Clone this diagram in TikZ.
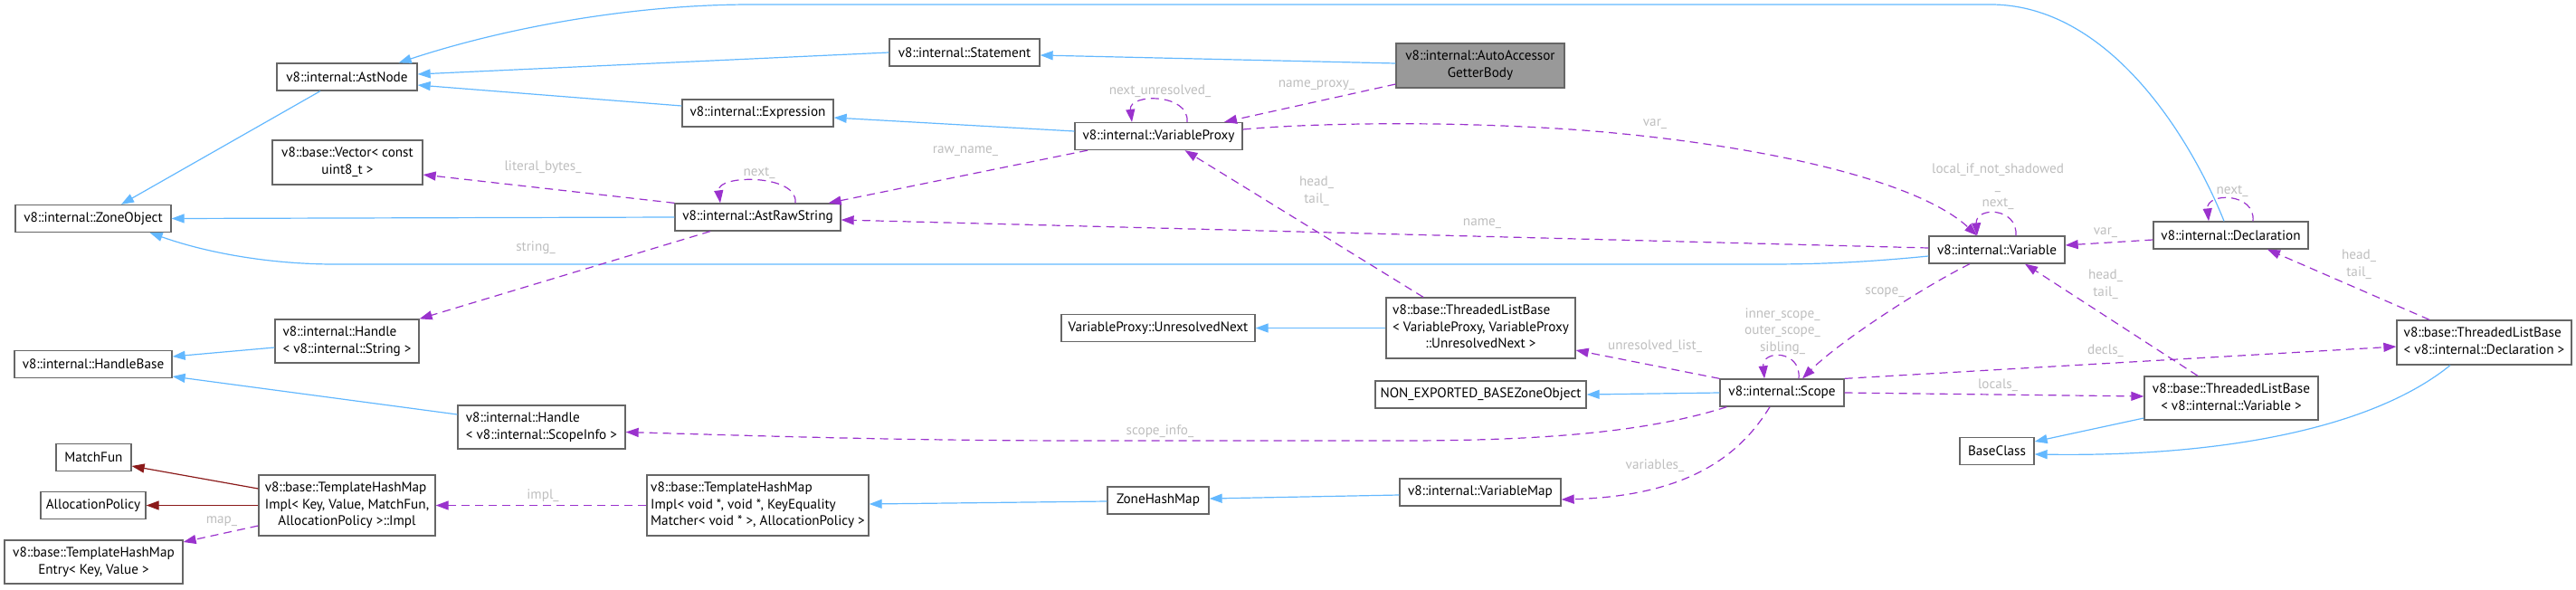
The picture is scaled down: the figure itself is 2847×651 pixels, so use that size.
\documentclass[tikz,border=0pt]{standalone}
\usepackage{fontspec}
\setmainfont{PT Sans}
\usetikzlibrary{arrows.meta, calc}

\definecolor{inhblue}{HTML}{63B8FF}
\definecolor{tplred}{HTML}{8B1A1A}
\definecolor{usepurple}{HTML}{9A32CD}
\definecolor{lblgray}{HTML}{BEBEBE}
\definecolor{boxgray}{HTML}{666666}
\definecolor{fillgray}{HTML}{999999}

\newcommand{\twoline}[2]{\begin{tabular}{@{}l@{}}#1\\\multicolumn{1}{@{}c@{}}{#2}\end{tabular}}
\newcommand{\threeline}[3]{\begin{tabular}{@{}l@{}}#1\\#2\\\multicolumn{1}{@{}c@{}}{#3}\end{tabular}}

\begin{document}
\begin{tikzpicture}[
  x=1pt, y=-1pt,
  every node/.style={font=\fontsize{15.2}{18.7}\selectfont},
  cls/.style={rectangle, draw=boxgray, line width=1.3pt, fill=white, inner sep=0pt},
  sz/.style 2 args={minimum width=#1pt, minimum height=#2pt},
  lbl/.style={text=lblgray, inner sep=0pt, align=center},
  inh/.style={draw=inhblue, line width=1.2pt, -{Triangle[length=14pt, width=10pt]}},
  tpl/.style={draw=tplred, line width=1.2pt, -{Triangle[length=14pt, width=10pt]}},
  usage/.style={draw=usepurple, line width=1.2pt, dash pattern=on 9pt off 6pt,
                -{Triangle[length=14pt, width=10pt]}}
]
  \useasboundingbox (0,0) rectangle (2847,651);

  % classes
  \node[cls, sz={155}{30}] (astnode)     at (383.5,85)    {v8::internal::AstNode};
  \node[cls, sz={166}{49}] (vector)      at (384,179.5)   {\twoline{v8::base::Vector< const}{uint8\_t >}};
  \node[cls, sz={172}{30}] (zoneobj)     at (103,241.5)   {v8::internal::ZoneObject};
  \node[cls, sz={174}{30}] (handlebase)  at (103,402.5)   {v8::internal::HandleBase};
  \node[cls, sz={159}{48}] (handlestr)   at (383.5,377)   {\twoline{v8::internal::Handle}{< v8::internal::String >}};
  \node[cls, sz={185}{48}] (handlesi)    at (598.5,472)   {\twoline{v8::internal::Handle}{< v8::internal::ScopeInfo >}};
  \node[cls, sz={83}{30}]  (matchfun)    at (103.5,505.5) {MatchFun};
  \node[cls, sz={116}{30}] (allocpol)    at (103,558.5)   {AllocationPolicy};
  \node[cls, sz={195}{67}] (hashimplkey) at (383.5,558.5) {\threeline{v8::base::TemplateHashMap}{Impl< Key, Value, MatchFun,}{AllocationPolicy >::Impl}};
  \node[cls, sz={197}{48}] (hashentry)   at (103.5,621)   {\twoline{v8::base::TemplateHashMap}{Entry< Key, Value >}};
  \node[cls, sz={166}{30}] (statement)   at (1066,58)     {v8::internal::Statement};
  \node[cls, sz={167}{30}] (expression)  at (837.5,125)   {v8::internal::Expression};
  \node[cls, sz={183}{30}] (astraw)      at (837.5,240)   {v8::internal::AstRawString};
  \node[cls, sz={245}{67}] (hashimplvoid) at (837.5,558.5) {\threeline{v8::base::TemplateHashMap}{Impl< void *, void *, KeyEquality}{Matcher< void * >, AllocationPolicy >}};
  \node[cls, fill=fillgray, sz={186}{49}] (getterbody) at (1636,72.5) {\twoline{v8::internal::AutoAccessor}{GetterBody}};
  \node[cls, sz={185}{30}] (varproxy)    at (1280.5,150.5) {v8::internal::VariableProxy};
  \node[cls, sz={214}{30}] (unresnext)   at (1280,362.5)  {VariableProxy::UnresolvedNext};
  \node[cls, sz={209}{67}] (listproxy)   at (1636.5,362.5) {\threeline{v8::base::ThreadedListBase}{< VariableProxy, VariableProxy}{::UnresolvedNext >}};
  \node[cls, sz={233}{30}] (nonexported) at (1636.5,436)  {NON\_EXPORTED\_BASEZoneObject};
  \node[cls, sz={112}{30}] (zonehashmap) at (1280,553)    {ZoneHashMap};
  \node[cls, sz={178}{30}] (varmap)      at (1636,544)    {v8::internal::VariableMap};
  \node[cls, sz={150}{30}] (variable)    at (2207,276)    {v8::internal::Variable};
  \node[cls, sz={137}{30}] (scope)       at (1969.5,434)  {v8::internal::Scope};
  \node[cls, sz={82}{30}]  (baseclass)   at (2207,498.5)  {BaseClass};
  \node[cls, sz={171}{30}] (declaration) at (2465.5,260)  {v8::internal::Declaration};
  \node[cls, sz={193}{49}] (listdecl)    at (2745.5,378.5) {\twoline{v8::base::ThreadedListBase}{< v8::internal::Declaration >}};
  \node[cls, sz={192}{48}] (listvar)     at (2466,440)    {\twoline{v8::base::ThreadedListBase}{< v8::internal::Variable >}};

  % inheritance
  \foreach \a/\b in {astraw/zoneobj, listproxy/unresnext, scope/nonexported}{
    \draw[inh] (\a.west) -- (\b.east);
  }
  \draw[inh] (statement.west) -- ($(astnode.east)+(0,-3)$);
  \draw[inh] ($(expression.west)+(0,-8)$) -- ($(astnode.east)+(0,9)$);
  \draw[inh] ($(declaration.north)+(-7.5,0)$) .. controls (2420,150) and (2330,5) .. (2200,5)
    -- (830,5) .. controls (700,5) and (560,30) .. ($(astnode.north east)+(-21,0)$);
  \draw[inh] ($(astnode.south)+(-29.5,0)$) -- ($(zoneobj.north)+(31,0)$);
  \draw[inh] ($(variable.west)+(0,7)$) .. controls (2050,291) and (2000,292) .. (1950,292)
    -- (370,292) .. controls (300,292) and (230,280) .. ($(zoneobj.south east)+(-24,0)$);
  \draw[inh] ($(handlestr.west)+(0,7)$) -- ($(handlebase.east)+(0,-8.5)$);
  \draw[inh] ($(handlesi.west)+(0,-14)$) -- ($(handlebase.east)+(0,13.5)$);
  \draw[inh] ($(getterbody.west)+(0,-2.5)$) -- ($(statement.east)+(0,3)$);
  \draw[inh] ($(varproxy.west)+(0,-5.5)$) -- ($(expression.east)+(0,5)$);
  \draw[inh] ($(varmap.west)+(0,3)$) -- ($(zonehashmap.east)+(0,-2)$);
  \draw[inh] ($(zonehashmap.west)+(0,1)$) -- ($(hashimplvoid.east)+(0,-1.5)$);
  \draw[inh] ($(listvar.west)+(0,22)$) -- ($(baseclass.east)+(0,-10.5)$);
  \draw[inh] ($(listdecl.south)+(-37.5,0)$) .. controls (2620,475) and (2450,505) .. ($(baseclass.east)+(0,3.5)$);

  % template arguments
  \draw[tpl] ($(hashimplkey.west)+(0,-18.5)$) -- ($(matchfun.east)+(0,9.5)$);
  \draw[tpl] (hashimplkey.west) -- (allocpol.east);

  % usage
  \draw[usage] ($(getterbody.west)+(0,20.5)$) -- ($(varproxy.north)+(72.5,0)$);
  \draw[usage] ($(varproxy.north)+(31.5,0)$) .. controls +(3,-32) and +(-4,-32) .. ($(varproxy.north)+(-29.5,0)$);
  \draw[usage] ($(varproxy.south)+(-78.5,0)$) -- ($(astraw.north east)+(-14,0)$);
  \draw[usage] ($(varproxy.east)+(0,-7.5)$) .. controls (1450,136) and (1600,133) .. (1750,144)
    .. controls (1950,160) and (2120,200) .. ($(variable.north)+(-22,0)$);
  \draw[usage] ($(astraw.north)+(41.5,0)$) .. controls +(4,-32) and +(-4,-32) .. ($(astraw.north)+(-41.5,0)$);
  \draw[usage] (astraw.north west) -- ($(vector.east)+(0,13.5)$);
  \draw[usage] ($(astraw.south)+(-52.5,0)$) -- (handlestr.north east);
  \draw[usage] ($(variable.west)+(0,-2)$) -- ($(astraw.east)+(0,3)$);
  \draw[usage] ($(variable.north)+(21,0)$) .. controls +(2,-32) and +(-2,-32) .. ($(variable.north)+(-22,0)$);
  \draw[usage] ($(declaration.west)+(0,5)$) -- ($(variable.east)+(0,-5)$);
  \draw[usage] ($(declaration.north)+(24.5,0)$) .. controls +(3,-32) and +(-3,-32) .. ($(declaration.north)+(-24.5,0)$);
  \draw[usage] ($(listdecl.north)+(-60.5,0)$) -- ($(declaration.south)+(40.5,0)$);
  \draw[usage] ($(listvar.north)+(-37,0)$) -- ($(variable.south)+(31,0)$);
  \draw[usage] ($(listproxy.north)+(-63.5,0)$) -- ($(varproxy.south)+(29,0)$);
  \draw[usage] ($(variable.south)+(-30,0)$) .. controls (2120,320) and (2030,380) .. ($(scope.north)+(22.5,0)$);
  \draw[usage] ($(scope.north)+(18.5,0)$) .. controls +(3,-32) and +(-3,-32) .. ($(scope.north)+(-19.5,0)$);
  \draw[usage] (scope.north west) -- ($(listproxy.east)+(0,24.5)$);
  \draw[usage] (scope.north east) -- ($(listdecl.west)+(0,4.5)$);
  \draw[usage] (scope.east) -- ($(listvar.west)+(0,-2)$);
  \draw[usage] ($(scope.south west)+(8,0)$) .. controls (1820,478) and (1700,487) .. (1550,487)
    -- (1200,487) .. controls (1000,487) and (850,482) .. ($(handlesi.east)+(0,5.5)$);
  \draw[usage] ($(scope.south)+(-13.5,0)$) .. controls (1925,500) and (1870,548) .. ($(varmap.east)+(0,8)$);
  \draw[usage] (hashimplvoid.west) -- (hashimplkey.east);
  \draw[usage] ($(hashimplkey.west)+(0,22.5)$) -- ($(hashentry.east)+(0,-22)$);

  % member labels
  \node[lbl] (lnameproxy) at (1455,94)   {name\_proxy\_};
  \node[lbl] (lnextunres) at (1282,101)  {next\_unresolved\_};
  \node[lbl] (lrawname)   at (1067,167)  {raw\_name\_};
  \node[lbl] (lvarproxy)  at (1829,137)  {var\_};
  \node[lbl] (lastnext)   at (839,191)   {next\_};
  \node[lbl] (lliteral)   at (600,185)   {literal\_bytes\_};
  \node[lbl] (lstring)    at (592,274)   {string\_};
  \node[lbl] (lname)      at (1638,247)  {name\_};
  \node[lbl] (lvarloop)   at (2208,206)  {local\_if\_not\_shadowed\\\_\\next\_};
  \node[lbl] (lvardecl)   at (2327,257)  {var\_};
  \node[lbl] (ldeclnext)  at (2467,211)  {next\_};
  \node[lbl] (lheaddecl)  at (2607,292.5) {head\_\\tail\_};
  \node[lbl] (lheadvar)   at (2327,314)  {head\_\\tail\_};
  \node[lbl] (lheadproxy) at (1455,211)  {head\_\\tail\_};
  \node[lbl] (lscope)     at (2083,323)  {scope\_};
  \node[lbl] (lscopeloop) at (1970,366)  {inner\_scope\_\\outer\_scope\_\\sibling\_};
  \node[lbl] (lunres)     at (1829,383)  {unresolved\_list\_};
  \node[lbl] (ldecls)     at (2327,388)  {decls\_};
  \node[lbl] (llocals)    at (2208,426)  {locals\_};
  \node[lbl] (lscopeinfo) at (1282,477)  {scope\_info\_};
  \node[lbl] (lvariables) at (1829,515)  {variables\_};
  \node[lbl] (limpl)      at (600,548)   {impl\_};
  \node[lbl] (lmap)       at (245,576)   {map\_};
\end{tikzpicture}
\end{document}
